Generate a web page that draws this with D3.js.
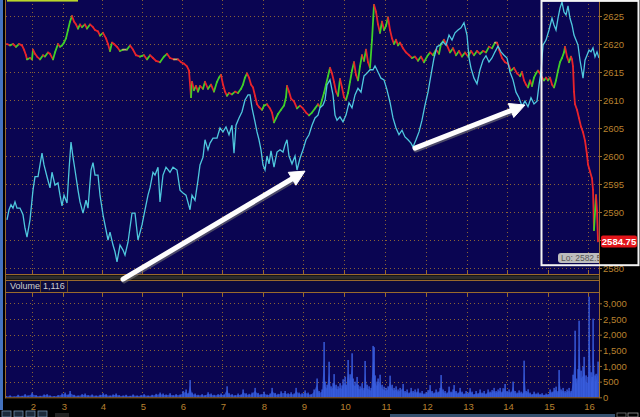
<!DOCTYPE html>
<html><head><meta charset="utf-8">
<script src="https://cdn.jsdelivr.net/npm/d3@7"></script>
<style>
html,body{margin:0;padding:0;background:#000;overflow:hidden}
svg{display:block}
text{font-family:"Liberation Sans",Arial,sans-serif}
</style></head><body>
<svg id="c" width="640" height="417"></svg>
<script>
// ---------- DATA (x = bar number, one bar per minute-ish) ----------
const priceData = [[1,2620],[4,2619.75],[7,2620],[10,2619.5],[13,2620],[16,2619.75],[18,2619],[20,2618],[21,2617.25],[24,2617.5],[26,2617.25],[27,2619],[29,2618.25],[31,2617.75],[34,2617.25],[37,2618],[39,2617.75],[42,2618.5],[44,2618.25],[47,2617.25],[49,2618.5],[52,2620],[54,2619.5],[56,2619.75],[58,2620.25],[60,2621],[62,2622.5],[64,2624],[66,2625],[68,2624],[70,2623.5],[72,2622.75],[74,2623.5],[76,2623],[79,2623.5],[81,2622.75],[84,2623.5],[87,2623],[89,2622.5],[92,2622.25],[94,2621.5],[97,2622],[100,2621],[102,2620],[104,2618.75],[106,2620.25],[108,2620],[111,2619.5],[114,2618.75],[117,2619],[121,2619],[124,2619.75],[127,2619],[130,2618],[134,2617.75],[138,2618],[141,2617.25],[144,2618],[147,2617.5],[150,2617],[154,2616.75],[158,2617.75],[161,2618.25],[164,2617.5],[168,2617.25],[172,2617.25],[175,2616.75],[178,2616.5],[181,2616],[183,2615.25],[185,2610.5],[186,2613.25],[188,2611.75],[190,2612.5],[192,2611.5],[194,2612.5],[197,2612],[199,2613.25],[202,2612],[205,2612.75],[208,2611.5],[211,2613.25],[213,2614],[215,2614.5],[217,2612.75],[219,2611.5],[221,2610.75],[223,2611.25],[226,2611],[229,2611.5],[232,2611.25],[235,2612],[237,2612.75],[239,2614],[241,2614.75],[243,2614],[245,2612.75],[247,2612.25],[249,2610.75],[251,2609.25],[253,2608.75],[256,2608.25],[258,2609],[261,2609.25],[264,2608.5],[266,2607.75],[268,2606],[270,2606.75],[272,2607.5],[275,2608.25],[278,2609],[280,2610.5],[281,2612.5],[283,2611.5],[285,2610.25],[288,2609.75],[291,2608.5],[294,2609],[297,2608.5],[300,2607.75],[303,2607.25],[306,2607.75],[309,2608.5],[312,2609.25],[314,2608.75],[316,2610],[318,2611.25],[320,2612.75],[322,2614.25],[324,2615.75],[326,2614.75],[328,2613.25],[330,2611.5],[332,2610.75],[334,2613.75],[336,2612.25],[338,2610.5],[340,2610],[342,2611.25],[344,2613.25],[346,2615.25],[348,2616.75],[350,2614.5],[352,2613.5],[354,2616],[356,2618],[358,2617],[360,2619],[362,2616.75],[364,2615.75],[366,2620.75],[368,2627],[370,2625.75],[372,2623.5],[374,2622],[376,2624],[378,2622.5],[380,2623.25],[382,2624.75],[384,2622.5],[386,2621],[388,2620],[390,2620.75],[392,2619.75],[394,2620.25],[397,2619.25],[400,2618.5],[403,2618],[406,2617.5],[409,2617.75],[412,2617],[415,2617.75],[418,2616.75],[421,2617.75],[424,2618.5],[427,2618],[430,2619],[433,2618.25],[435,2620],[438,2620.75],[441,2619.75],[444,2618.5],[447,2619.25],[450,2618],[453,2618.75],[456,2617.75],[459,2618.5],[462,2617.75],[465,2618.75],[468,2618],[471,2618.75],[474,2618.25],[477,2618.75],[480,2618.5],[483,2619.5],[486,2619.25],[489,2620.25],[491,2620.25],[493,2619],[496,2617.5],[499,2616.75],[502,2616.5],[505,2615.25],[508,2615.75],[511,2614.75],[514,2614.25],[516,2615],[518,2613.5],[520,2612.75],[522,2612.25],[524,2613.5],[526,2612.5],[528,2614],[530,2614.75],[532,2615.25],[534,2614.75],[536,2614],[538,2613.5],[540,2614],[542,2613.5],[544,2614],[546,2612.75],[548,2612.25],[550,2613.5],[552,2615.25],[554,2616.75],[556,2617.5],[558,2618.5],[559,2619.5],[561,2617.75],[563,2616.75],[565,2617.75],[566,2617.25],[567,2616],[568,2611.5],[569,2609.25],[571,2608.25],[573,2606.75],[575,2605.25],[577,2604.25],[579,2602.75],[581,2600.25],[582,2598.5],[584,2597.25],[586,2596],[587,2594],[588,2586.75],[590,2593],[591,2590.25],[592,2584.75]];

const flowData = [[1,2588.6],[3,2590.4],[5,2591.3],[7,2590.7],[9,2591.8],[11,2590.7],[14,2590.7],[17,2589.5],[19,2587.1],[21,2585.5],[24,2588.6],[27,2593.9],[29,2596.3],[32,2596.3],[34,2598.4],[36,2600.5],[38,2598.4],[41,2596.3],[44,2594.3],[46,2597.1],[49,2594.8],[52,2595.2],[54,2593.0],[56,2591.1],[58,2593.0],[61,2591.6],[63,2597.5],[65,2602.5],[67,2599.8],[69,2597.5],[72,2593.9],[74,2591.8],[77,2589.8],[80,2592.1],[82,2590.7],[85,2597.5],[87,2598.8],[89,2596.6],[92,2596.6],[94,2593.0],[97,2589.5],[100,2586.8],[102,2585.0],[104,2586.4],[107,2584.1],[109,2582.9],[111,2581.1],[114,2584.1],[117,2583.2],[119,2582.3],[122,2584.6],[126,2589.8],[129,2589.8],[132,2585.0],[136,2587.7],[139,2590.4],[142,2593.0],[144,2594.3],[147,2597.1],[149,2596.6],[152,2598.0],[154,2591.8],[157,2596.6],[160,2598.0],[164,2597.1],[167,2598.0],[171,2597.5],[174,2593.9],[177,2593.4],[180,2593.0],[184,2590.4],[186,2593.0],[189,2592.1],[192,2595.7],[194,2598.4],[197,2599.8],[199,2602.9],[202,2601.1],[204,2602.3],[207,2603.2],[211,2603.2],[214,2605.0],[217,2604.3],[220,2605.2],[223,2603.8],[226,2605.5],[228,2600.5],[230,2605.5],[233,2606.8],[236,2607.9],[239,2610.0],[242,2610.9],[244,2610.9],[246,2608.6],[249,2606.1],[251,2604.3],[253,2602.9],[255,2601.1],[257,2598.4],[259,2597.5],[261,2600.0],[263,2598.6],[265,2600.9],[268,2598.0],[271,2600.7],[274,2601.1],[277,2600.7],[279,2602.0],[281,2602.9],[283,2600.0],[286,2598.6],[289,2600.0],[291,2597.5],[294,2599.6],[297,2601.1],[300,2602.9],[303,2603.8],[306,2605.5],[309,2606.8],[312,2607.3],[314,2608.6],[317,2609.1],[319,2610.0],[321,2612.7],[324,2613.6],[327,2610.9],[329,2607.3],[331,2606.4],[334,2607.0],[337,2606.1],[340,2607.3],[343,2609.5],[346,2608.6],[349,2610.9],[352,2612.1],[355,2611.4],[358,2614.3],[361,2614.8],[364,2615.4],[367,2615.4],[369,2616.1],[372,2615.0],[375,2613.9],[378,2613.6],[381,2611.8],[384,2609.6],[387,2606.8],[390,2605.0],[393,2603.8],[396,2604.6],[399,2603.4],[402,2602.9],[405,2602.3],[407,2601.6],[410,2602.9],[413,2604.3],[416,2606.4],[419,2609.1],[422,2611.4],[425,2614.5],[428,2617.5],[431,2619.5],[434,2619.8],[437,2620.4],[440,2619.8],[443,2621.6],[446,2620.7],[449,2622.0],[452,2622.5],[455,2622.9],[458,2623.8],[461,2621.6],[463,2617.5],[465,2615.7],[468,2613.9],[471,2612.9],[474,2615.4],[477,2617.1],[480,2617.9],[483,2616.8],[486,2617.5],[489,2618.6],[492,2619.6],[495,2618.6],[498,2618.0],[501,2617.5],[504,2615.0],[507,2613.6],[510,2611.4],[513,2610.4],[516,2608.9],[519,2609.8],[522,2608.8],[525,2610.4],[528,2609.3],[531,2609.8],[533,2612.7],[535,2615.0],[537,2619.8],[540,2620.7],[543,2622.5],[546,2624.6],[548,2623.4],[550,2622.5],[552,2624.6],[554,2626.4],[556,2627.5],[558,2625.7],[560,2625.2],[562,2626.8],[564,2624.6],[566,2623.4],[568,2621.6],[570,2620.7],[572,2619.8],[574,2617.1],[576,2615.0],[577,2613.9],[579,2617.1],[581,2618.0],[583,2618.9],[585,2618.6],[587,2619.3],[589,2617.7],[591,2618.6],[593,2617.5]];

const volumeData = [[0,40],[4,60],[8,30],[12,80],[16,50],[19,100],[22,60],[26,150],[30,70],[34,50],[38,90],[41,100],[44,60],[48,40],[52,70],[56,120],[59,150],[62,90],[64,200],[68,80],[72,60],[76,100],[79,120],[82,70],[86,90],[90,60],[94,80],[97,130],[100,100],[104,60],[107,90],[110,120],[113,70],[117,60],[120,80],[124,50],[127,90],[131,60],[135,70],[138,100],[142,60],[146,80],[150,110],[154,150],[157,120],[160,90],[164,130],[167,70],[170,100],[174,90],[177,200],[180,250],[182,130],[184,550],[186,150],[189,120],[192,80],[196,100],[199,70],[202,160],[205,120],[208,80],[212,100],[215,120],[218,90],[221,350],[223,130],[226,100],[229,70],[232,120],[235,90],[237,250],[240,130],[243,110],[246,150],[249,300],[252,140],[255,100],[258,180],[261,90],[264,120],[266,300],[269,140],[272,110],[275,190],[279,200],[282,130],[285,160],[288,120],[290,300],[293,150],[296,130],[299,220],[302,150],[305,100],[308,250],[311,600],[313,200],[316,250],[318,1765],[319,500],[321,400],[323,1135],[325,350],[327,450],[328,740],[330,400],[332,350],[334,450],[336,380],[337,575],[339,660],[340,400],[342,1190],[344,735],[346,1404],[347,600],[349,500],[351,650],[352,400],[354,350],[356,450],[358,300],[359,1160],[361,400],[363,350],[365,300],[367,1640],[368,1600],[369,700],[371,500],[372,600],[374,720],[376,400],[378,340],[380,300],[382,350],[384,690],[386,400],[388,300],[390,350],[392,250],[394,300],[397,425],[399,200],[401,250],[403,150],[405,300],[407,200],[409,250],[411,180],[412,280],[414,150],[416,200],[418,120],[420,160],[422,230],[424,390],[426,200],[428,150],[430,250],[432,180],[434,300],[435,710],[437,250],[439,200],[441,150],[443,340],[445,180],[447,250],[448,390],[450,200],[452,150],[454,300],[456,180],[458,120],[460,200],[462,150],[464,290],[466,180],[468,100],[470,200],[472,130],[474,250],[476,150],[478,200],[480,120],[482,250],[484,180],[486,230],[488,300],[490,200],[492,250],[494,300],[496,180],[497,290],[499,425],[501,200],[503,250],[505,180],[507,500],[509,200],[511,150],[513,220],[515,180],[517,150],[518,1170],[520,200],[522,255],[524,150],[526,100],[528,180],[530,120],[532,150],[534,100],[536,130],[538,80],[540,120],[542,100],[544,250],[546,180],[548,300],[550,340],[552,200],[553,870],[555,250],[557,300],[559,200],[561,250],[563,300],[565,200],[567,720],[569,2125],[570,600],[572,900],[573,2445],[575,850],[577,980],[578,1290],[580,700],[582,650],[583,3210],[585,800],[586,650],[587,2510],[589,700],[590,750],[592,1140]];

const priceTicks = [2625,2620,2615,2610,2605,2600,2595,2590,2585,2580];
const volumeTicks = [0,500,1000,1500,2000,2500,3000];
const hourTickBars = [26,57,96,136,176,216,257,297,338,379,420,461,501,542,582];
const hourLabels = ["2","3","4","5","6","7","8","9","10","11","12","13","14","15","16"];
const lastPrice = 2584.75;
const lowPrice = 2582.5;
const currentVolume = 1116;
const arrowNotes = [
  {from:[117,2578.0], to:[299,2597.3]},
  {from:[409,2601.4], to:[519,2609.1]}
];
const boxNote = {bars:[535.5,632.5], prices:[2580.5,2627.7]};

// ---------- LAYOUT ----------
const W = 640, H = 417;
const L = 6, R = 599;
const P = {top:0, bottom:274};
const V = {head:281, top:292, bottom:397.3};
const ORANGE = "#9a6a2c", LABEL = "#b8812f", BG = "#0a0552", GRID = "#8a6336";

const svg = d3.select("#c");
const x = d3.scaleLinear().domain([0,593]).range([L,R]);
const y = d3.scaleLinear().domain([2580,2625]).range([268,16]);
const yv = d3.scaleLinear().domain([0,3000]).range([V.bottom,303.3]);

svg.append("rect").attr("width",W).attr("height",H).attr("fill","#000");
svg.append("rect").attr("x",0).attr("y",0).attr("width",3).attr("height",410).attr("fill","#4472bf");

// price panel
svg.append("rect").attr("x",L).attr("y",P.top).attr("width",R-L).attr("height",P.bottom-P.top).attr("fill",BG);
svg.append("defs").call(d=>{
  d.append("clipPath").attr("id","pc").append("rect").attr("x",L).attr("y",P.top).attr("width",R-L).attr("height",P.bottom-P.top);
  d.append("clipPath").attr("id","vc").append("rect").attr("x",L).attr("y",V.top).attr("width",R-L).attr("height",V.bottom-V.top);
});
const gp = svg.append("g").attr("clip-path","url(#pc)");
gp.selectAll("line.h").data(priceTicks).join("line")
  .attr("x1",L).attr("x2",R).attr("y1",d=>Math.round(y(d))+0.5).attr("y2",d=>Math.round(y(d))+0.5)
  .attr("stroke",GRID).attr("stroke-dasharray","1,3");
gp.selectAll("line.v").data(hourTickBars).join("line")
  .attr("x1",d=>Math.round(x(d))+0.5).attr("x2",d=>Math.round(x(d))+0.5).attr("y1",P.top).attr("y2",P.bottom)
  .attr("stroke",GRID).attr("stroke-dasharray","1,3");

// price bars as coloured segments
const segs = d3.pairs(priceData);
gp.selectAll("line.p").data(segs).join("line")
  .attr("x1",d=>x(d[0][0])).attr("y1",d=>y(d[0][1]))
  .attr("x2",d=>x(d[1][0])).attr("y2",d=>y(d[1][1]))
  .attr("stroke",d=>d[1][1]>d[0][1]?"#3fcf2a":(d[1][1]<d[0][1]?"#e8232b":"#c8b070"))
  .attr("stroke-width",1.8).attr("stroke-linecap","round");

// cyan indicator
gp.append("path").datum(flowData)
  .attr("d",d3.line().x(d=>x(d[0])).y(d=>y(d[1])))
  .attr("fill","none").attr("stroke","#4fc8de").attr("stroke-width",1.3);

// price axis (right); the tick label hidden under the last-price tag is not shown
svg.append("line").attr("x1",R+0.5).attr("x2",R+0.5).attr("y1",0).attr("y2",V.bottom).attr("stroke",ORANGE);
svg.append("line").attr("x1",L-0.5).attr("x2",L-0.5).attr("y1",0).attr("y2",V.bottom+1).attr("stroke",ORANGE);
const ay = d3.axisRight(y).tickValues(priceTicks).tickSize(3)
  .tickFormat(d=>Math.abs(y(d)-y(lastPrice))<8?"":d3.format("d")(d));
svg.append("g").attr("transform",`translate(${R},0)`).call(ay)
  .call(g=>{g.select(".domain").remove();
    g.selectAll("line").attr("stroke",ORANGE);
    g.selectAll("text").attr("fill",LABEL).attr("font-size",9.5).attr("x",4);});

// separator between panels
svg.append("line").attr("x1",L).attr("x2",R).attr("y1",P.bottom+0.5).attr("y2",P.bottom+0.5).attr("stroke",ORANGE);
svg.append("rect").attr("x",L).attr("y",P.bottom+1.5).attr("width",R-L).attr("height",4).attr("fill","#2c2c2c");
svg.append("line").attr("x1",L).attr("x2",R).attr("y1",V.head-0.5).attr("y2",V.head-0.5).attr("stroke",ORANGE);
svg.selectAll("line.pt").data(hourTickBars).join("line")
  .attr("x1",d=>Math.round(x(d))+0.5).attr("x2",d=>Math.round(x(d))+0.5).attr("y1",P.bottom-4).attr("y2",P.bottom)
  .attr("stroke",ORANGE);

// volume header
svg.append("rect").attr("x",L).attr("y",V.head).attr("width",R-L).attr("height",V.top-V.head).attr("fill","#0c0a3c");
svg.append("line").attr("x1",L).attr("x2",R).attr("y1",V.top+0.5).attr("y2",V.top+0.5).attr("stroke",ORANGE);
[40.5,67.5].forEach(xx=>svg.append("line").attr("x1",xx).attr("x2",xx).attr("y1",V.head).attr("y2",V.top).attr("stroke","#6a4a22"));
svg.append("text").attr("x",10).attr("y",289).attr("fill","#cfcfcf").attr("font-size",9).text("Volume");
svg.append("text").attr("x",43).attr("y",289).attr("fill","#cfcfcf").attr("font-size",9).text(d3.format(",")(currentVolume));

// volume panel
svg.append("rect").attr("x",L).attr("y",V.top+1).attr("width",R-L).attr("height",V.bottom-V.top-1).attr("fill",BG);
const gv = svg.append("g").attr("clip-path","url(#vc)");
gv.selectAll("line.h").data(volumeTicks.slice(1)).join("line")
  .attr("x1",L).attr("x2",R).attr("y1",d=>Math.round(yv(d))+0.5).attr("y2",d=>Math.round(yv(d))+0.5)
  .attr("stroke",GRID).attr("stroke-dasharray","1,3");
gv.selectAll("line.v").data(hourTickBars).join("line")
  .attr("x1",d=>Math.round(x(d))+0.5).attr("x2",d=>Math.round(x(d))+0.5).attr("y1",V.top).attr("y2",V.bottom)
  .attr("stroke",GRID).attr("stroke-dasharray","1,3");
gv.append("path").datum(volumeData)
  .attr("d",d3.area().x(d=>x(d[0])).y0(yv(0)).y1(d=>yv(d[1]*0.7)))
  .attr("fill","#2744b8");
gv.selectAll("rect.vb").data(volumeData).join("rect")
  .attr("x",d=>x(d[0])-0.6).attr("width",1.4)
  .attr("y",d=>yv(d[1])).attr("height",d=>yv(0)-yv(d[1]))
  .attr("fill","#3a5fe0");
svg.selectAll("line.vt").data(hourTickBars).join("line")
  .attr("x1",d=>Math.round(x(d))+0.5).attr("x2",d=>Math.round(x(d))+0.5).attr("y1",V.top).attr("y2",V.top+4)
  .attr("stroke",ORANGE);
const avy = d3.axisRight(yv).tickValues(volumeTicks).tickSize(3).tickFormat(d3.format(","));
svg.append("g").attr("transform",`translate(${R},0)`).call(avy)
  .call(g=>{g.select(".domain").remove();
    g.selectAll("line").attr("stroke",ORANGE);
    g.selectAll("text").attr("fill",LABEL).attr("font-size",9.5).attr("x",4);});
svg.append("line").attr("x1",L-1).attr("x2",R+1).attr("y1",V.bottom+0.5).attr("y2",V.bottom+0.5).attr("stroke",ORANGE);

// time axis
const ax = d3.axisBottom(x).tickValues(hourTickBars).tickSize(0).tickFormat((d,i)=>hourLabels[i]);
svg.append("g").attr("transform",`translate(1,${V.bottom+1})`).call(ax)
  .call(g=>{g.select(".domain").remove();
    g.selectAll("text").attr("fill",LABEL).attr("font-size",9.5).attr("dy","0.95em");});

// annotations: highlight box, last price, low tooltip
svg.append("rect")
  .attr("x",x(boxNote.bars[0])).attr("y",y(boxNote.prices[1]))
  .attr("width",x(boxNote.bars[1])-x(boxNote.bars[0]))
  .attr("height",y(boxNote.prices[0])-y(boxNote.prices[1]))
  .attr("fill","none").attr("stroke","#f4f4f4").attr("stroke-width",2);

const gl = svg.append("g").attr("clip-path","url(#pc)");
gl.append("rect").attr("x",x(552)).attr("y",y(lowPrice)-1).attr("width",50).attr("height",10).attr("rx",3)
  .attr("fill","#bdbdbd");
gl.append("text").attr("x",x(555)).attr("y",y(lowPrice)+7).attr("fill","#555").attr("font-size",8.5).text("Lo: "+lowPrice);

svg.append("rect").attr("x",R+2).attr("y",y(lastPrice)-6).attr("width",36).attr("height",12).attr("rx",2).attr("fill","#e3161b");
svg.append("text").attr("x",R+20).attr("y",y(lastPrice)+3.5).attr("text-anchor","middle").attr("fill","#fff")
  .attr("font-size",9.5).attr("font-weight","bold").text(lastPrice.toFixed(2));

// arrows
arrowNotes.forEach(a=>{
  const x0=x(a.from[0]), y0=y(a.from[1]), x1=x(a.to[0]), y1=y(a.to[1]);
  const ang=Math.atan2(y1-y0,x1-x0), hl=15, hw=7.5;
  const bx=x1-hl*Math.cos(ang), by=y1-hl*Math.sin(ang);
  const px=-Math.sin(ang), py=Math.cos(ang);
  const head=[[x1,y1],[bx+hw*px,by+hw*py],[bx-hw*px,by-hw*py]];
  const g=svg.append("g");
  g.append("line").attr("x1",x0+1).attr("y1",y0+1.5).attr("x2",bx+1).attr("y2",by+1.5)
    .attr("stroke","#777").attr("stroke-width",5.5).attr("stroke-linecap","round").attr("opacity",0.6);
  g.append("line").attr("x1",x0).attr("y1",y0).attr("x2",bx+2*Math.cos(ang)).attr("y2",by+2*Math.sin(ang))
    .attr("stroke","#fdfdfd").attr("stroke-width",5).attr("stroke-linecap","round");
  g.append("polygon").attr("points",head.map(p=>p.join(",")).join(" ")).attr("fill","#fdfdfd")
    .attr("stroke","#fdfdfd").attr("stroke-width",1).attr("stroke-linejoin","round");
});

// chrome: top selector bar, bottom buttons, scrollbar
svg.append("rect").attr("x",7).attr("y",0).attr("width",71).attr("height",1.6).attr("fill","#b9d62a");
[[2,9],[14,9],[26,9],[38,9]].forEach(b=>svg.append("rect").attr("x",b[0]).attr("y",411).attr("width",b[1]).attr("height",6)
  .attr("fill","#1c2a3a").attr("stroke","#6f8aa8").attr("stroke-width",0.8));
svg.append("rect").attr("x",55).attr("y",413).attr("width",14).attr("height",4).attr("fill","#222");
svg.append("rect").attr("x",390).attr("y",414).attr("width",225).attr("height",3).attr("fill","#36506e");
svg.append("rect").attr("x",617).attr("y",413).attr("width",9).attr("height",4).attr("fill","none").attr("stroke","#777").attr("stroke-width",0.8);
svg.append("rect").attr("x",628).attr("y",413).attr("width",10).attr("height",4).attr("fill","none").attr("stroke","#999").attr("stroke-width",0.8);
</script>
</body></html>
